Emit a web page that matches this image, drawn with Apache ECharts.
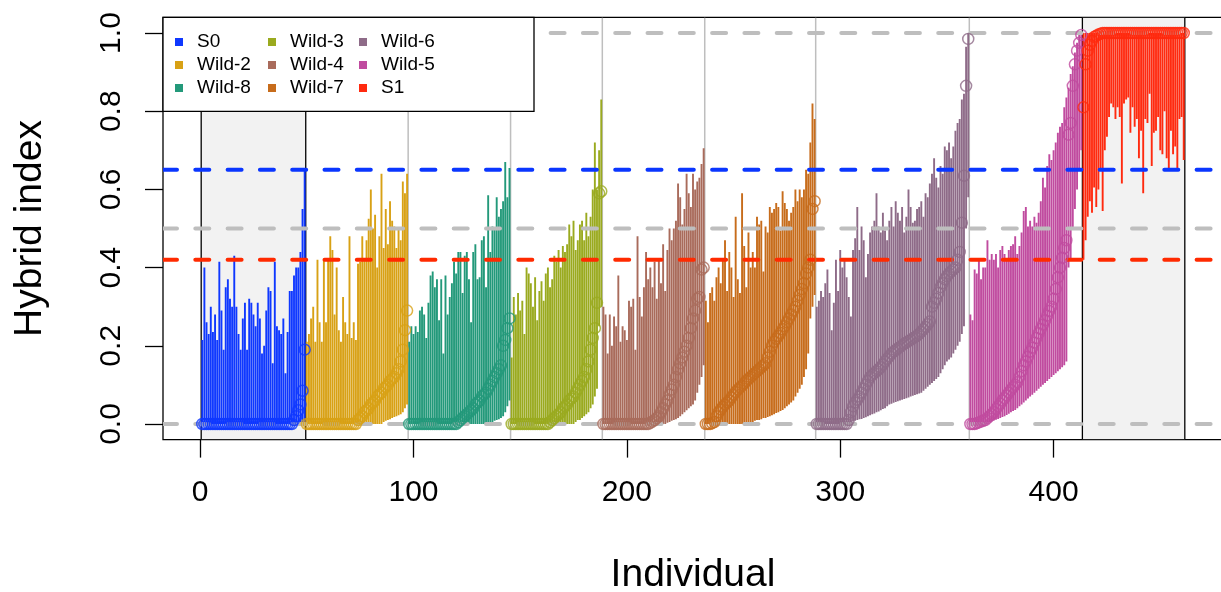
<!DOCTYPE html>
<html><head><meta charset="utf-8">
<script src="https://cdn.jsdelivr.net/npm/echarts@6/dist/echarts.min.js"></script>
<style>html,body{margin:0;padding:0;background:#fff}#c{width:1221px;height:592px}</style>
</head><body><div id="c"></div><script>
// ---------------- data ----------------
const groupNames = ['S0','Wild-2','Wild-8','Wild-3','Wild-4','Wild-7','Wild-6','Wild-5','S1'];

const estS0 = [0,0,0,0,0,0,0,0,0,0, 0,0,0,0,0,0,0,0,0,0, 0,0,0,0,0,0,0,0,0,0, 0,0,0,0,0,0,0,0,0,0, 0,0,0, 0.01,0.02,0.035,0.05,0.085,0.19];
const loS0 = [0,0,0,0,0,0,0,0,0,0, 0,0,0,0,0,0,0,0,0,0, 0,0,0,0,0,0,0,0,0,0, 0,0,0,0,0,0,0,0,0,0, 0,0,0,0,0,0,0,0,0];
const hiS0 = [0.215,0.40,0.26,0.23,0.30,0.235,0.28,0.215,0.415,0.29, 0.19,0.35,0.37,0.32,0.30,0.43,0.30,0.23,0.19,0.27, 0.31,0.19,0.32,0.31,0.28,0.25,0.31,0.27,0.18,0.20, 0.29,0.35,0.34,0.155,0.415,0.25,0.24,0.23,0.27,0.13, 0.235,0.34,0.34,0.38,0.40,0.40,0.44,0.55,0.65];

const estW2 = [0,0,0,0,0,0,0,0,0,0, 0,0,0,0,0,0,0,0,0,0, 0,0,0,0, 0.01,0.015,0.02,0.03,0.035,0.04,0.05,0.055,0.06,0.07,0.075,0.08,0.09,0.095,0.10,0.11,0.115,0.12,0.13,0.14,0.16,0.19,0.24,0.29];
const loW2 = [0,0,0,0,0,0,0,0,0,0, 0,0,0,0,0,0,0,0,0,0, 0,0,0,0,0,0,0,0,0,0, 0,0,0,0,0,0, 0.005,0.008,0.01,0.012,0.015,0.018,0.02,0.022,0.025,0.03,0.04,0.05];
const hiW2 = [0.21,0.23,0.27,0.30,0.21,0.42,0.26,0.21,0.42,0.26, 0.42,0.48,0.445,0.28,0.40,0.24,0.21,0.325,0.26,0.23, 0.48,0.22,0.26,0.215,0.41,0.415,0.48,0.42,0.47,0.525, 0.60,0.50,0.535,0.40,0.48,0.64,0.45,0.55,0.46,0.57, 0.52,0.505,0.45,0.50,0.47,0.62,0.59,0.64];

const estW8 = [0,0,0,0,0,0,0,0,0,0, 0,0,0,0,0,0,0,0,0,0, 0,0,0, 0.005,0.01,0.015,0.02,0.025,0.03,0.035,0.04,0.05,0.055,0.06,0.07,0.075,0.08,0.09,0.10,0.11,0.12,0.13,0.14,0.15,0.20,0.215,0.245,0.27];
const loW8 = [0,0,0,0,0,0,0,0,0,0, 0,0,0,0,0,0,0,0,0,0, 0,0,0,0,0,0,0,0,0,0, 0,0,0,0,0,0,0,0, 0.003,0.005,0.008,0.01,0.012,0.015,0.02,0.03,0.045,0.06];
const hiW8 = [0.21,0.25,0.23,0.25,0.235,0.29,0.30,0.28,0.22,0.31, 0.38,0.39,0.35,0.37,0.265,0.37,0.18,0.38,0.28,0.325, 0.36,0.415,0.385,0.44,0.44,0.335,0.43,0.44,0.37,0.26, 0.44,0.46,0.37,0.375,0.47,0.48,0.35,0.585,0.44,0.505, 0.50,0.58,0.53,0.55,0.57,0.67,0.58,0.655];

const estW3 = [0,0,0,0,0,0,0,0,0,0, 0,0,0,0,0,0,0,0, 0.005,0.01,0.015,0.02,0.025,0.03,0.04,0.045,0.05,0.06,0.065,0.07,0.08,0.09,0.10,0.11,0.12,0.14,0.16,0.19,0.22,0.245,0.31,0.59,0.595];
const loW3 = [0,0,0,0,0,0,0,0,0,0, 0,0,0,0,0,0,0,0,0,0, 0,0,0,0,0,0,0,0,0,0, 0.005,0.01,0.01,0.015,0.02,0.025,0.03,0.04,0.05,0.07,0.09,0.25,0.30];
const hiW3 = [0.17,0.325,0.28,0.335,0.29,0.315,0.23,0.40,0.385,0.36, 0.30,0.375,0.265,0.34,0.365,0.315,0.385,0.40,0.35,0.37, 0.43,0.415,0.445,0.40,0.455,0.44,0.46,0.51,0.48,0.52, 0.445,0.47,0.51,0.52,0.47,0.54,0.48,0.53,0.60,0.72, 0.60,0.70,0.83];

const estW4 = [0,0,0,0,0,0,0,0,0,0, 0,0,0,0,0,0,0,0,0,0, 0,0, 0.003,0.006,0.01,0.015,0.02,0.03,0.04,0.05,0.06,0.075,0.088,0.10,0.12,0.14,0.155,0.17,0.185,0.20,0.22,0.245,0.27,0.29,0.32,0.325,0.395,0.40];
const loW4 = [0,0,0,0,0,0,0,0,0,0, 0,0,0,0,0,0,0,0,0,0, 0,0,0,0,0,0,0,0,0,0, 0.003,0.005,0.008,0.01,0.012,0.015,0.02,0.025,0.03,0.035,0.04,0.045,0.05,0.06,0.08,0.10,0.12,0.15];
const hiW4 = [0.30,0.28,0.18,0.28,0.20,0.275,0.25,0.38,0.21,0.25, 0.24,0.215,0.315,0.30,0.32,0.19,0.48,0.325,0.275,0.35, 0.44,0.37,0.40,0.35,0.415,0.32,0.42,0.36,0.46,0.34, 0.445,0.50,0.47,0.50,0.52,0.615,0.58,0.51,0.55,0.64, 0.59,0.555,0.64,0.60,0.62,0.63,0.665,0.705];

const estW7 = [0,0,0,0.002,0.005,0.02,0.03,0.037,0.044,0.05, 0.055,0.06,0.068,0.075,0.082,0.088,0.093,0.098,0.104,0.11, 0.115,0.12,0.125,0.13,0.135,0.14,0.145,0.15,0.155,0.17, 0.185,0.20,0.21,0.218,0.225,0.233,0.242,0.25,0.26,0.27, 0.28,0.29,0.30,0.315,0.33,0.345,0.36,0.385,0.40,0.42, 0.55,0.57];
const loW7 = [0,0,0,0,0,0,0,0,0,0, 0,0,0,0,0,0,0,0,0,0, 0.003,0.005,0.005,0.008,0.01,0.01,0.012,0.015,0.015,0.018, 0.02,0.022,0.025,0.028,0.03,0.033,0.036,0.04,0.045,0.05, 0.055,0.06,0.07,0.08,0.09,0.10,0.12,0.14,0.18,0.27, 0.30,0.33];
const hiW7 = [0.315,0.26,0.335,0.35,0.315,0.375,0.40,0.36,0.42,0.47, 0.34,0.44,0.40,0.325,0.53,0.37,0.335,0.59,0.455,0.35, 0.49,0.40,0.44,0.40,0.53,0.51,0.52,0.39,0.505,0.49, 0.555,0.54,0.55,0.565,0.555,0.495,0.595,0.565,0.55,0.52, 0.54,0.555,0.60,0.57,0.60,0.58,0.60,0.65,0.64,0.72, 0.82,0.78];

const estW6 = [0,0,0,0,0,0,0,0,0,0, 0,0,0,0,0, 0.01,0.03,0.045,0.055,0.062, 0.07,0.08,0.09,0.10,0.11, 0.12,0.125,0.13,0.135,0.14, 0.145,0.152,0.16,0.167,0.173, 0.18,0.185,0.189,0.193,0.197, 0.201,0.205,0.208,0.212,0.215, 0.219,0.222,0.226,0.23,0.236, 0.242,0.248,0.255,0.262,0.30, 0.31,0.32,0.335,0.35,0.36, 0.37,0.378,0.385,0.39,0.395, 0.40,0.42,0.44,0.515,0.635, 0.865,0.985];
const loW6 = [0,0,0,0,0,0,0,0,0,0, 0,0,0,0,0, 0.003,0.005,0.006,0.008,0.01,0.012,0.013,0.015,0.017,0.02, 0.022,0.025,0.027,0.03,0.032,0.035,0.038,0.04,0.045,0.05, 0.052,0.054,0.056,0.058,0.06,0.062,0.064,0.066,0.068,0.07,0.072,0.074,0.076,0.078,0.08, 0.085,0.09,0.095,0.10,0.105,0.11,0.115,0.12,0.13, 0.14,0.15,0.16,0.165,0.17,0.18,0.19, 0.20,0.21,0.23,0.25, 0.50,0.58];
const hiW6 = [0.30,0.315,0.34,0.325,0.36,0.395,0.335,0.24,0.31, 0.42,0.34,0.445,0.40,0.42,0.375,0.325,0.275,0.445, 0.475,0.555,0.445,0.505,0.47,0.375,0.435,0.49,0.505,0.52, 0.59,0.505,0.49,0.54,0.495,0.47,0.52,0.555,0.505, 0.57,0.54,0.52,0.555,0.49,0.53,0.60,0.555,0.515,0.52, 0.55,0.555,0.57,0.53,0.59,0.58,0.615,0.64,0.68, 0.63,0.605,0.66,0.64,0.71,0.70,0.72,0.68,0.71, 0.75,0.77,0.78,0.83,0.845,0.965,1.0];

const estW5 = [0,0,0,0.002,0.004,0.006,0.008,0.01,0.015,0.02, 0.025,0.03,0.038,0.045,0.052,0.06,0.066,0.073,0.08,0.087, 0.094,0.10,0.107,0.12,0.135,0.15,0.16,0.172,0.185,0.195, 0.208,0.22,0.232,0.243,0.254,0.265,0.277,0.289,0.30,0.32, 0.345,0.375,0.40,0.425,0.45,0.47,0.74,0.77,0.865,0.92, 0.955,0.975,0.995];
const loW5 = [0,0,0,0,0,0,0,0, 0.003,0.005,0.007,0.009,0.011,0.013,0.015,0.018,0.02,0.023,0.026,0.03, 0.033,0.036,0.04,0.045,0.05,0.055,0.06,0.065,0.07,0.075, 0.08,0.085,0.09,0.095,0.10,0.105,0.11,0.115,0.12,0.125, 0.13,0.135,0.14,0.145,0.15,0.16, 0.40,0.42,0.50,0.55,0.60,0.65,0.70];
const hiW5 = [0.28,0.265,0.395,0.385,0.42,0.37,0.40,0.40,0.47, 0.42,0.435,0.42,0.435,0.40,0.445,0.455,0.435,0.42, 0.445,0.455,0.46,0.48,0.435,0.455,0.49,0.545,0.555, 0.505,0.52,0.505,0.53,0.515,0.54,0.57,0.63,0.605, 0.66,0.69,0.675,0.70,0.72,0.745,0.76,0.77,0.81,0.835, 0.86,0.895,0.915,0.95,0.975,1.0,1.0];

const estS1 = [0.81,0.92,0.955,0.97,0.98,0.99,0.993,0.996,0.998, 1,1,1,1,1,1,1,1,1,1, 1,1,1,1,1,1,1,1,1,1, 1,1,1,1,1,1,1,1,1,1, 1,1,1,1,1,1,1,1,1];
const loS1 = [0.42,0.47,0.53,0.57,0.54,0.605,0.555,0.60,0.65,0.545, 0.70,0.735,0.785,0.82,0.81,0.78,0.81,0.785,0.615, 0.82,0.83,0.835,0.745,0.81,0.76,0.78,0.68,0.75,0.59, 0.78,0.77,0.845,0.66,0.745,0.75,0.785,0.70,0.69, 0.80,0.68,0.65,0.75,0.69,0.71,0.65,0.78,0.785,0.675];
const hiS1 = [1,1,1,1,1,1,1,1,1,1, 1,1,1,1,1,1,1,1,1,1, 1,1,1,1,1,1,1,1,1,1, 1,1,1,1,1,1,1,1,1,1, 1,1,1,1,1,1,1,1];

const refValues = [0, 0.5, 1, 0.65, 0.42];
const xTicks = [0, 100, 200, 300, 400];
const yTicks = [0, 0.2, 0.4, 0.6, 0.8, 1.0];

// ---------------- styles ----------------
const groupColors = ['#0f38ff','#d8a115','#23997a','#9aaa1f','#a96b5b','#c76c1b','#8e6b88','#c04b9f','#ff2a0f'];
const refColors = ['#bebebe','#bebebe','#bebebe','#0a36ff','#ff2a00'];
const FONT = 'Liberation Sans';

const estimates = [estS0, estW2, estW8, estW3, estW4, estW7, estW6, estW5, estS1];
const lowers = [loS0, loW2, loW8, loW3, loW4, loW7, loW6, loW5, loS1];
const uppers = [hiS0, hiW2, hiW8, hiW3, hiW4, hiW7, hiW6, hiW5, hiS1];

const nTotal = estimates.reduce((s, a) => s + a.length, 0);
const xPad = 0.04 * (nTotal - 1);
const xMin = 1 - xPad, xMax = nTotal + xPad;
const yMin = -0.04, yMax = 1.04;

function barRender(params, api) {
  const x = api.value(0);
  const p1 = api.coord([x, api.value(1)]);
  const p2 = api.coord([x, api.value(2)]);
  return { type: 'line', shape: { x1: p1[0], y1: p1[1], x2: p2[0], y2: p2[1] },
           style: { stroke: api.visual('color'), lineWidth: 1.9 } };
}

const series = [];
const bounds = [];
let start = 1;
groupNames.forEach((name, g) => {
  const est = estimates[g], lo = lowers[g], hi = uppers[g];
  const barData = [], ptData = [];
  for (let k = 0; k < est.length; k++) {
    barData.push([start + k, lo[k], hi[k]]);
    ptData.push([start + k, est[k]]);
  }
  bounds.push([start - 0.5, start + est.length - 0.5]);
  start += est.length;
  series.push({ type: 'custom', name: name, renderItem: barRender, data: barData,
    encode: { x: 0, y: [1, 2] }, itemStyle: { color: groupColors[g] }, z: 3, clip: true, silent: true });
  series.push({ type: 'scatter', name: name, data: ptData, symbol: 'circle', symbolSize: 11,
    itemStyle: { color: 'rgba(0,0,0,0)', borderColor: groupColors[g], borderWidth: 1.5 }, z: 5, silent: true });
});

// shaded parental regions (first and last group)
series.unshift({ type: 'custom', name: 'shade', silent: true, z: 1, clip: true,
  data: [bounds[0], bounds[bounds.length - 1]],
  renderItem: function (params, api) {
    const a = api.coord([api.value(0), yMax]);
    const b = api.coord([api.value(1), yMin]);
    return { type: 'rect', shape: { x: a[0], y: a[1], width: b[0] - a[0], height: b[1] - a[1] },
             style: { fill: '#f2f2f2', stroke: '#000', lineWidth: 1.3 } };
  } });
// grey separators between wild groups
series.unshift({ type: 'custom', name: 'sep', silent: true, z: 2, clip: true,
  data: bounds.slice(1, bounds.length - 2).map(b => [b[1]]),
  renderItem: function (params, api) {
    const a = api.coord([api.value(0), yMax]);
    const b = api.coord([api.value(0), yMin]);
    return { type: 'line', shape: { x1: a[0], y1: a[1], x2: b[0], y2: b[1] },
             style: { stroke: '#bebebe', lineWidth: 1.5 } };
  } });
// dashed reference lines
series.push({ type: 'custom', name: 'ref', silent: true, z: 4, clip: true,
  data: refValues.map((v, i) => [v, i]),
  renderItem: function (params, api) {
    const v = api.value(0);
    const a = api.coord([xMin, v]);
    const b = api.coord([xMax, v]);
    return { type: 'line', shape: { x1: a[0], y1: a[1], x2: b[0], y2: b[1] },
             style: { stroke: refColors[api.value(1)], lineWidth: 4, lineDash: [14, 18.3], lineCap: 'round' } };
  } });

function legendCol(names, left) {
  return { orient: 'vertical', left: left, top: 30.5, padding: 0, itemGap: 0, z: 200,
    itemWidth: 8, itemHeight: 8, icon: 'rect', selectedMode: true,
    data: names.map(n => ({ name: n, itemStyle: { color: groupColors[groupNames.indexOf(n)], borderWidth: 0 } })),
    textStyle: { fontFamily: FONT, fontSize: 19, color: '#000', lineHeight: 23, padding: [0, 0, 0, 9] } };
}

const chart = echarts.init(document.getElementById('c'), null, { renderer: 'canvas' });
chart.setOption({
  animation: false,
  backgroundColor: '#fff',
  grid: { left: 163, top: 17.4, width: 1060, height: 422.2, show: true, borderColor: '#000', borderWidth: 1.3,
    backgroundColor: 'transparent', containLabel: false, outerBoundsMode: 'none' },
  xAxis: { type: 'value', min: xMin, max: xMax,
    axisLine: { show: false, onZero: false }, splitLine: { show: false },
    axisTick: { show: true, inside: false, customValues: xTicks, length: 18, lineStyle: { color: '#000', width: 1.3 } },
    axisLabel: { customValues: xTicks, margin: 38, fontSize: 30, color: '#000', fontFamily: FONT },
    name: 'Individual', nameLocation: 'middle', nameGap: 116,
    nameTextStyle: { fontSize: 39, color: '#000', fontFamily: FONT } },
  yAxis: { type: 'value', min: yMin, max: yMax,
    axisLine: { show: false, onZero: false }, splitLine: { show: false },
    axisTick: { show: true, inside: false, customValues: yTicks, length: 18, lineStyle: { color: '#000', width: 1.3 } },
    axisLabel: { customValues: yTicks, margin: 36, rotate: 90, fontSize: 30, color: '#000', fontFamily: FONT,
      formatter: v => Number(v).toFixed(1) },
    name: 'Hybrid index', nameLocation: 'middle', nameRotate: 90, nameGap: 113,
    nameTextStyle: { fontSize: 39, color: '#000', fontFamily: FONT } },
  legend: [
    legendCol(['S0', 'Wild-2', 'Wild-8'], 175),
    legendCol(['Wild-3', 'Wild-4', 'Wild-7'], 268),
    legendCol(['Wild-6', 'Wild-5', 'S1'], 359)
  ],
  graphic: { elements: [
    { type: 'rect', z: 150, shape: { x: 163, y: 17.4, width: 371, height: 94 },
      style: { fill: '#fff', stroke: '#000', lineWidth: 1.3 } }
  ] },
  series: series
});
</script></body></html>
